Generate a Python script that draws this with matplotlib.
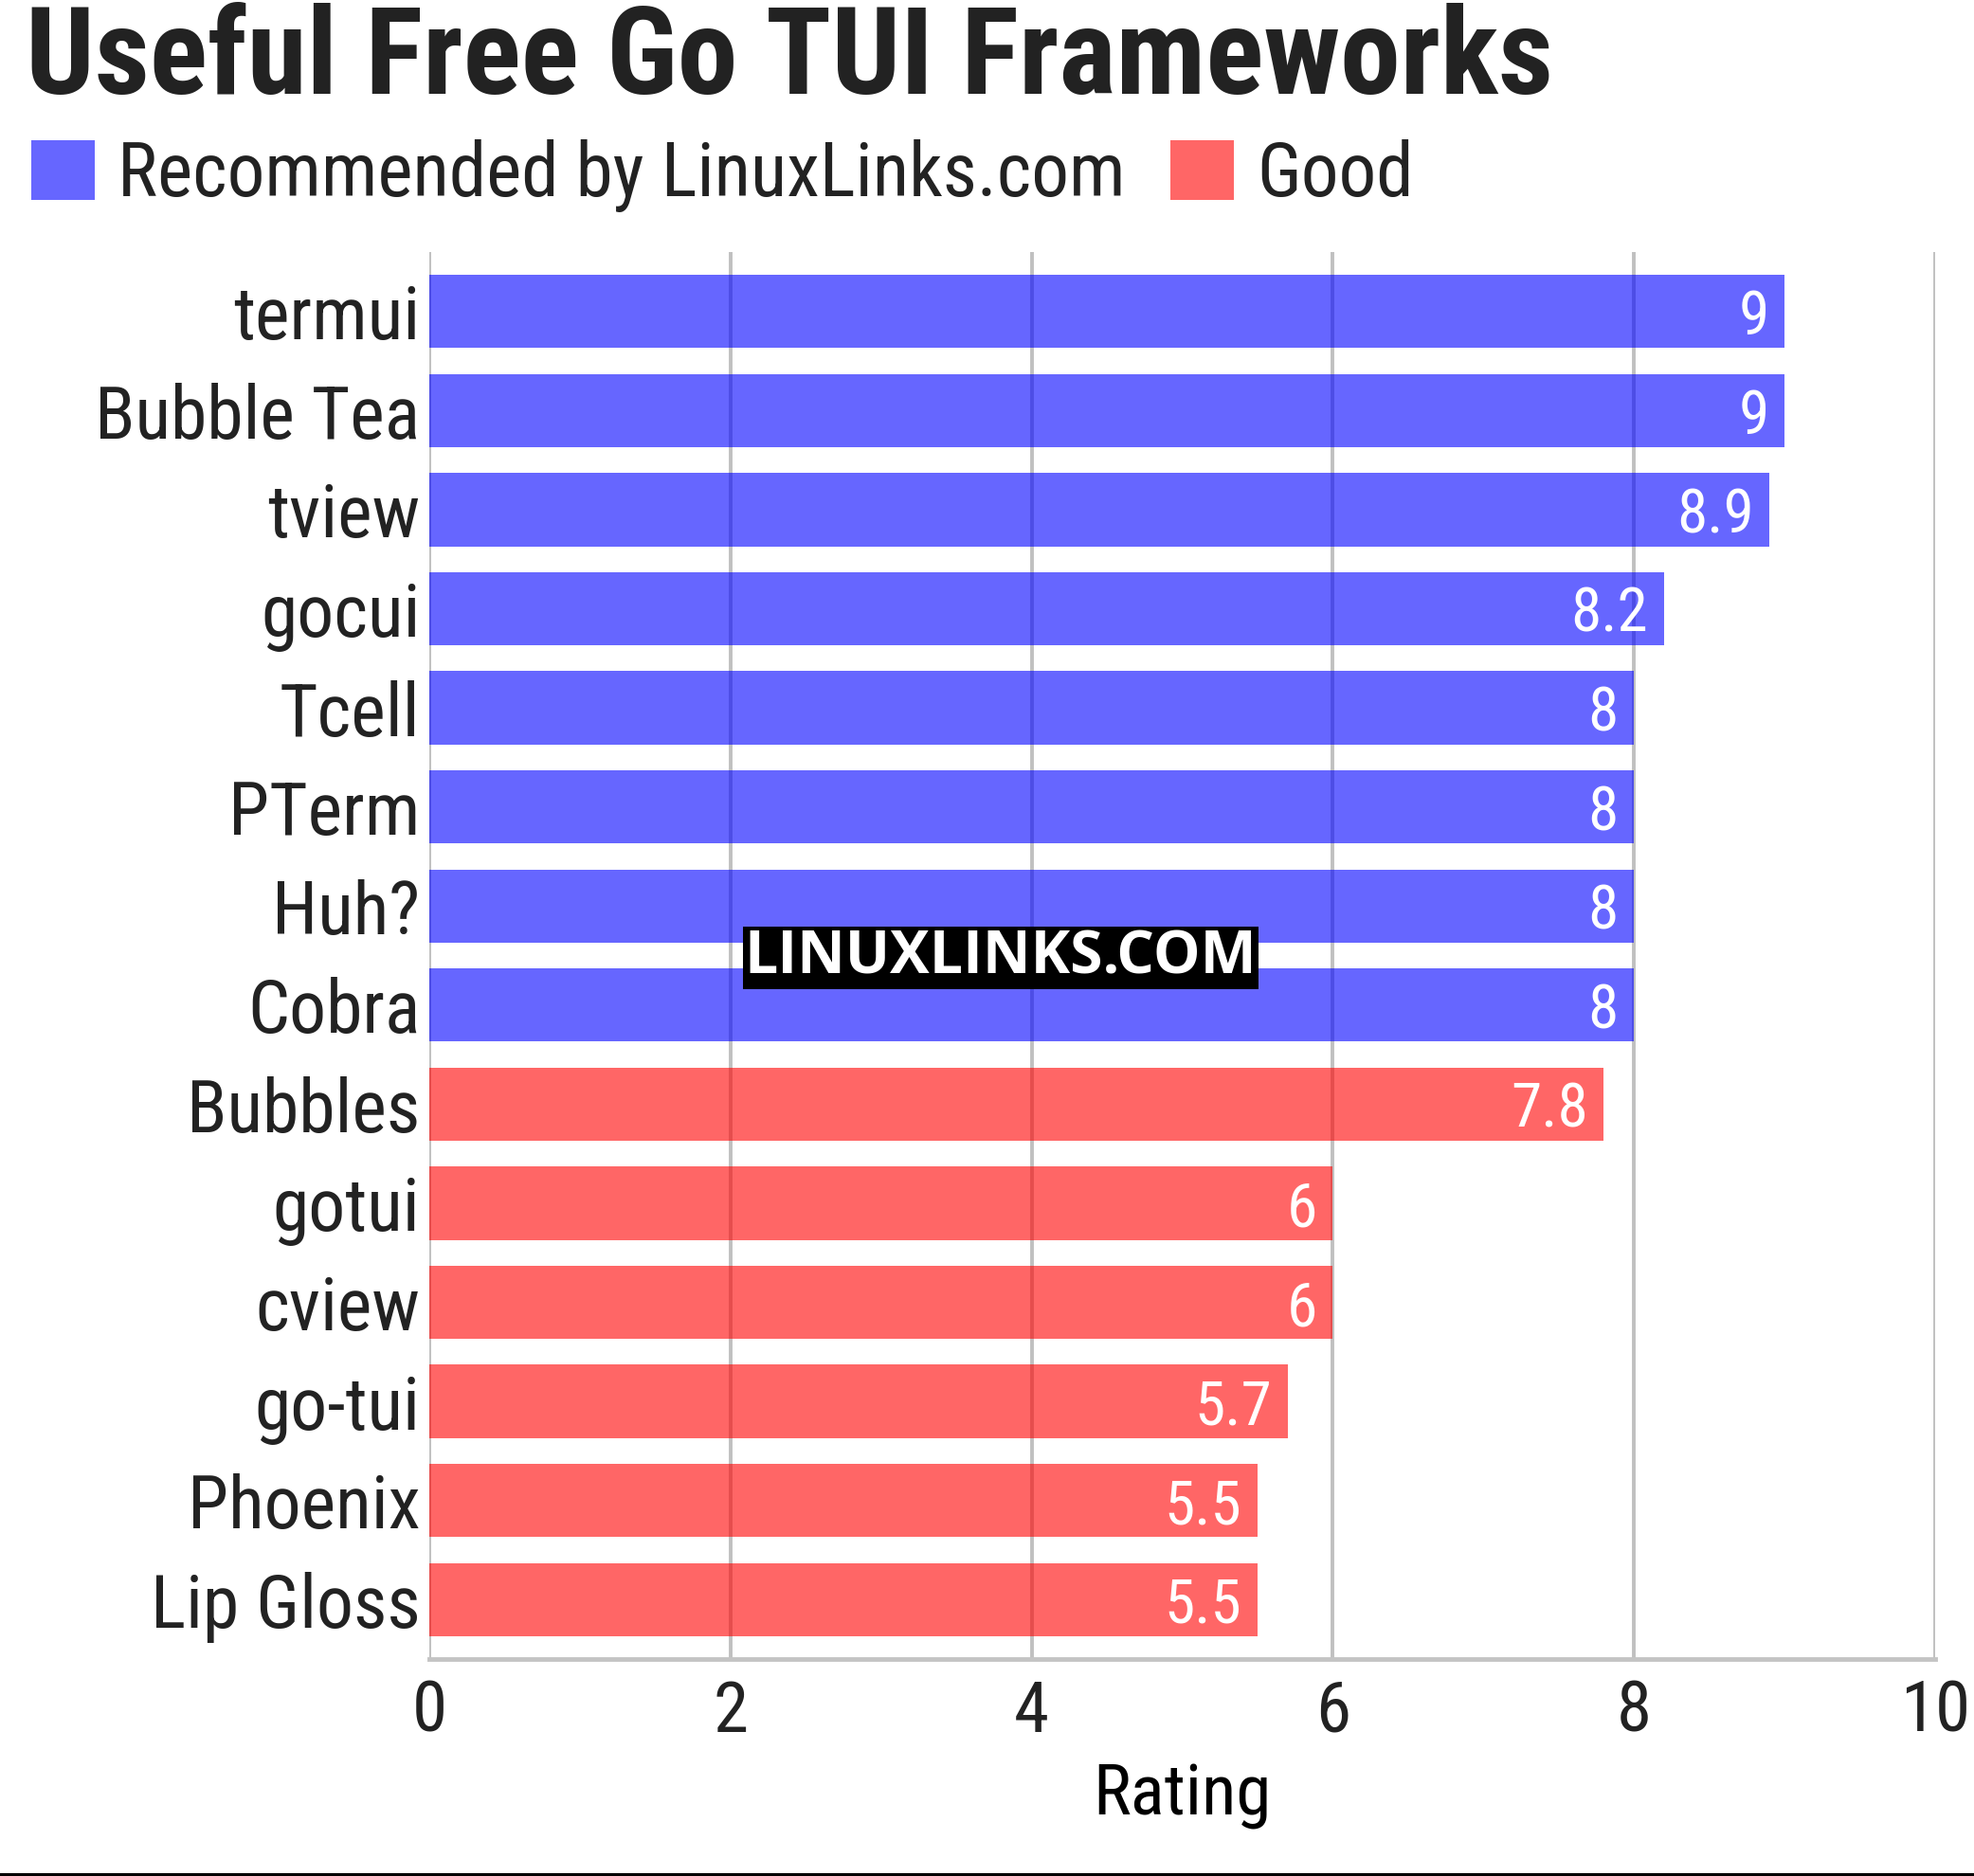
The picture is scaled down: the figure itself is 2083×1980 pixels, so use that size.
import matplotlib
matplotlib.use("Agg")
import matplotlib.pyplot as plt
from matplotlib import font_manager
from matplotlib.patches import Patch
from matplotlib.lines import Line2D

# data
names = ["termui", "Bubble Tea", "tview", "gocui", "Tcell", "PTerm", "Huh?", "Cobra",
         "Bubbles", "gotui", "cview", "go-tui", "Phoenix", "Lip Gloss"]
ratings = [9, 9, 8.9, 8.2, 8, 8, 8, 8, 7.8, 6, 6, 5.7, 5.5, 5.5]
groups = ["rec"] * 8 + ["good"] * 6
group_labels = {"rec": "Recommended by LinuxLinks.com", "good": "Good"}
group_colors = {"rec": "#0000ff", "good": "#ff0000"}
xticks = [0, 2, 4, 6, 8, 10]

# pick a condensed face if one exists
have = {f.name for f in font_manager.fontManager.ttflist}
family = "Roboto"
for cand in ["Roboto Condensed", "Liberation Sans Narrow", "Roboto"]:
    if cand in have:
        family = cand
        break
plt.rcParams["font.family"] = [family, "DejaVu Sans"]
txt = "#222222"

W, H = 2083, 1980
fig = plt.figure(figsize=(W / 100, H / 100), dpi=100)
ax = fig.add_axes([453 / W, 1 - 1751 / H, (2042 - 453) / W, (1751 - 266) / H])

ypos = list(range(len(names)))
ax.barh(ypos, ratings, height=0.74, color=[group_colors[g] for g in groups],
        alpha=0.6, zorder=2)
for y, v in zip(ypos, ratings):
    ax.annotate(f"{v:g}", (v, y), xytext=(-12, 0), textcoords="offset points",
                ha="right", va="center_baseline", color="white", fontsize=47, zorder=4)

ax.set_ylim(len(names) - 0.4, -0.6)
ax.set_xlim(0, 10)
ax.set_yticks(ypos, names)
ax.set_xticks(xticks, [str(t) for t in xticks])
ax.tick_params(axis="y", length=0, pad=7, labelsize=56, labelcolor=txt)
ax.tick_params(axis="x", length=0, pad=15, labelsize=54, labelcolor=txt)
ax.grid(axis="x", color="#c0c0c0", linewidth=2.8, zorder=1)
ax.set_axisbelow(True)
for s in ["top", "right", "left"]:
    ax.spines[s].set_visible(False)
ax.spines["bottom"].set_color("#c4c4c4")
ax.spines["bottom"].set_linewidth(3.5)
ax.set_xlabel("Rating", fontsize=54, color="black", labelpad=12)

# title and legend
fig.text(27 / W, 1 - 99 / H, "Useful Free Go TUI Frameworks", fontsize=92,
         fontweight="bold", color=txt, ha="left", va="baseline")
handles = [Patch(facecolor=group_colors[k], edgecolor="none", alpha=0.6,
                 label=group_labels[k]) for k in ["rec", "good"]]
fig.legend(handles=handles, loc="upper left", bbox_to_anchor=(33 / W, 1 - 147 / H),
           ncol=2, frameon=False, fontsize=57, handlelength=0.85, handleheight=0.85,
           handletextpad=0.3, columnspacing=0.6, borderpad=0, borderaxespad=0,
           labelcolor=txt)

# watermark
fig.text(1056 / W, 1 - 1011 / H, "LINUXLINKS.COM", fontsize=45, fontweight="bold",
         family=["Open Sans", "DejaVu Sans"], color="white", ha="center", va="center",
         bbox=dict(facecolor="black", edgecolor="none", pad=1))

fig.add_artist(Line2D([0, 1], [2 / H, 2 / H], color="black", linewidth=2.2))

fig.savefig("out.png", dpi=100)
